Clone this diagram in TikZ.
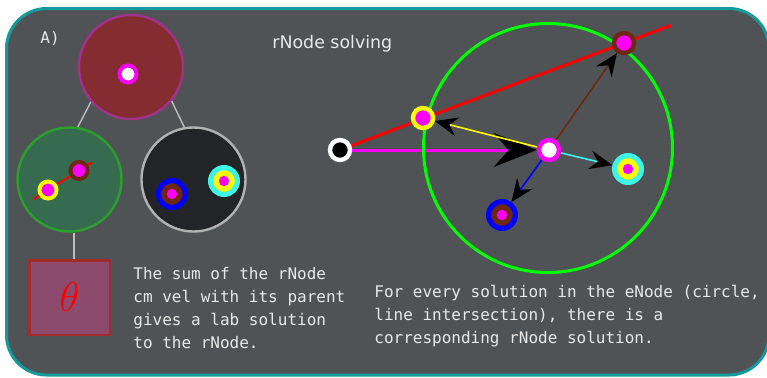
\documentclass[tikz,border=0pt]{standalone}
\usepackage{fontspec}
\usepackage{tikz}
\usetikzlibrary{positioning,calc,arrows.meta}

\newfontfamily\monofont{DejaVu Sans Mono}
\newfontfamily\titlefont{DejaVu Sans}

\definecolor{panel}{RGB}{79,83,86}
\definecolor{rim}{RGB}{22,153,154}
\definecolor{rootfill}{RGB}{132,44,48}
\definecolor{rootrim}{RGB}{160,50,140}
\definecolor{leftfill}{RGB}{54,107,80}
\definecolor{leftrim}{RGB}{44,160,44}
\definecolor{rightfill}{RGB}{34,36,39}
\definecolor{rightrim}{RGB}{178,178,178}
\definecolor{thetafill}{RGB}{140,75,109}
\definecolor{thetarim}{RGB}{162,44,44}
\definecolor{twig}{RGB}{190,190,190}
\definecolor{rust}{RGB}{110,40,14}
\definecolor{aqua}{RGB}{60,245,230}
\definecolor{ecol}{RGB}{0,255,0}
\definecolor{ink}{RGB}{232,232,232}
\definecolor{magenta}{RGB}{255,0,255}
\definecolor{yellow}{RGB}{255,255,0}
\definecolor{red}{RGB}{255,0,0}
\definecolor{blue}{RGB}{0,0,255}

\pgfdeclarelayer{back}
\pgfdeclarelayer{lines}
\pgfsetlayers{back,lines,main}

\begin{document}
\begin{tikzpicture}[
  x=0.5pt, y=-0.5pt,
  every node/.style={inner sep=0pt},
  tree/.style 2 args={circle, minimum size=52pt, line width=1.2pt, draw=#1, fill=#2},
  ring/.style 2 args={circle, minimum size=10pt, line width=2.2pt, draw=#1, fill=#2},
  smallring/.style 2 args={ring={#1}{#2}, minimum size=8.5pt, line width=2pt},
  triring/.style n args={3}{circle, minimum size=13.4pt, line width=2.6pt, draw=#1, fill=#2,
    path picture={\fill[#3] (path picture bounding box.center) circle[radius=2.6pt];}},
  thetabox/.style={draw=thetarim, fill=thetafill, line width=1.25pt, minimum width=40.25pt,
    minimum height=37.25pt, text=red, font=\fontsize{21}{21}\selectfont},
  treeline/.style={draw=twig, line width=0.7pt},
  vel/.style={line width=0.8pt, -{Stealth[length=11.5pt, width=9.5pt, inset=4pt, color=black]}},
  note/.style={font=\monofont\fontsize{8}{11.5}\selectfont, text=ink, align=left, anchor=base west}
]
\useasboundingbox (0,0) rectangle (767,377);

% tree of nodes on the left
\begin{pgfonlayer}{back}
\draw[fill=panel, draw=rim, line width=1.5pt, rounded corners=20pt] (6.5,8.5) rectangle (769,375);
\node[tree={rootrim}{rootfill}] (root) at (131,67) {};
\node[tree={leftrim}{leftfill}] (lhs) at (69.5,179.5) {};
\node[tree={rightrim}{rightfill}] (rhs) at (193.5,179.5) {};
\node[thetabox] (theta) at (69.5,297.5) {$\theta$};
\draw[treeline] (root.221) -- (lhs.81);
\draw[treeline] (root.320) -- (rhs.100);
\draw[treeline] (lhs.275) -- (lhs.275 |- theta.north);
\end{pgfonlayer}

\node[smallring={magenta}{white}] (rootv) at (128,74) {};
\node[smallring={yellow}{magenta}] (ly) at (48,190) {};
\node[smallring={rust}{magenta}] (lb) at (79,170.5) {};
\node[triring={blue}{rust}{magenta}] (lpv) at (172,194) {};
\node[triring={aqua}{yellow}{magenta}] (lcv) at (224,181) {};

% eNode picture on the right
\node[ring={white}{black}] (lab) at (340,150) {};
\node[ring={magenta}{white}] (cm) at (549,150) {};
\node[ring={yellow}{magenta}] (sola) at (423,118) {};
\node[ring={rust}{magenta}] (solb) at (624,43) {};
\node[triring={aqua}{yellow}{magenta}] (cvel) at (628,169) {};
\node[triring={blue}{rust}{magenta}] (pvel) at (502,215) {};

\begin{pgfonlayer}{lines}
\draw[red, line width=1pt] ($(ly)!-0.48!(lb)$) -- ($(lb)!-0.42!(ly)$);
\draw[red, line width=1.5pt] (lab) -- ($(lab)!1.165!(solb)$);
\draw[magenta, line width=1.5pt, -{Stealth[length=21.5pt, width=17pt, inset=7.5pt, color=black]}] (lab) -- (cm);
\node[circle, draw=ecol, line width=1.5pt, minimum size=124.5pt] (enode) at (548,148) {};
\draw[vel, yellow] (cm) -- (sola);
\draw[vel, rust] (cm) -- (solb);
\draw[vel, aqua] (cm) -- (cvel);
\draw[vel, blue] (cm) -- (pvel);
\end{pgfonlayer}

\node[note] (tag) at (40,43) {A)};
\node[font=\titlefont\fontsize{8.7}{10}\selectfont, text=ink, anchor=base west] (title) at (272,48) {rNode solving};
\node[note] (sumtext) at (133,348) {The sum of the rNode\\cm vel with its parent\\gives a lab solution\\to the rNode.};
\node[note] (soltext) at (374,343) {For every solution in the eNode (circle,\\line intersection), there is a\\corresponding rNode solution.};

\end{tikzpicture}
\end{document}
